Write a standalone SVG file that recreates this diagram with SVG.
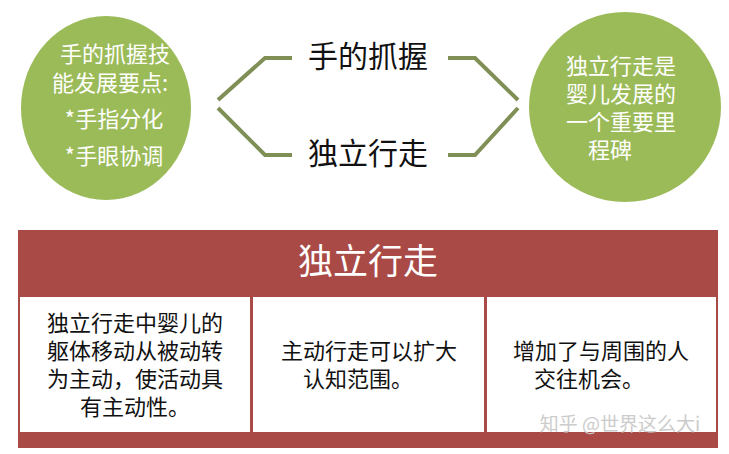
<svg xmlns="http://www.w3.org/2000/svg" width="729" height="454" viewBox="0 0 729 454">
<style>
text{font-family:"Noto Sans CJK SC","Liberation Sans",sans-serif;text-anchor:middle}
.w{fill:#fff;font-size:22px}
.k{fill:#111;font-size:22px}
.c{fill:#fff}
.ln{fill:none;stroke:#7f8f55;stroke-width:4}
</style>
<rect width="729" height="454" fill="#fff"/>
<g id="left">
<ellipse cx="106" cy="108" rx="85" ry="92" fill="#9bbb59"/>
<text class="w" x="115" y="62">手的抓握技</text>
<text class="w" x="110" y="91">能发展要点:</text>
<text class="w" x="114" y="127">*手指分化</text>
<text class="w" x="114" y="164">*手眼协调</text>
</g>
<g id="right">
<ellipse cx="625" cy="107" rx="96" ry="95" fill="#9bbb59"/>
<text class="w" x="621" y="74">独立行走是</text>
<text class="w" x="621" y="102">婴儿发展的</text>
<text class="w" x="621" y="130">一个重要里</text>
<text class="w" x="610" y="158">程碑</text>
</g>
<g id="t1"><text class="k" x="368" y="67" style="font-size:30px">手的抓握</text></g>
<g id="t2"><text class="k" x="368" y="164" style="font-size:30px">独立行走</text></g>
<g id="connectors">
<polyline class="ln" points="218,100 265,58 292,58"/>
<polyline class="ln" points="218,108 265,155 292,155"/>
<polyline class="ln" points="448,58 475,58 518,100"/>
<polyline class="ln" points="448,155 475,155 518,108"/>
</g>
<g id="table">
<rect x="18" y="230" width="700" height="218" fill="#a94a46"/>
<text class="c" x="368" y="274" style="font-size:35px">独立行走</text>
<rect x="20" y="297" width="230" height="135" fill="#fff"/>
<rect x="253" y="297" width="231" height="135" fill="#fff"/>
<rect x="487" y="297" width="229" height="135" fill="#fff"/>
</g>
<g id="cell1">
<text class="k" x="135" y="331">独立行走中婴儿的</text>
<text class="k" x="135" y="359">躯体移动从被动转</text>
<text class="k" x="135" y="387">为主动，使活动具</text>
<text class="k" x="135" y="415">有主动性。</text>
</g>
<g id="cell2">
<text class="k" x="369" y="359">主动行走可以扩大</text>
<text class="k" x="358" y="387">认知范围。</text>
</g>
<g id="cell3">
<text class="k" x="601" y="359">增加了与周围的人</text>
<text class="k" x="589" y="387">交往机会。</text>
</g>
<text x="620" y="431" style="font-size:19px;fill:#ccc">知乎 @世界这么大i</text>
</svg>
